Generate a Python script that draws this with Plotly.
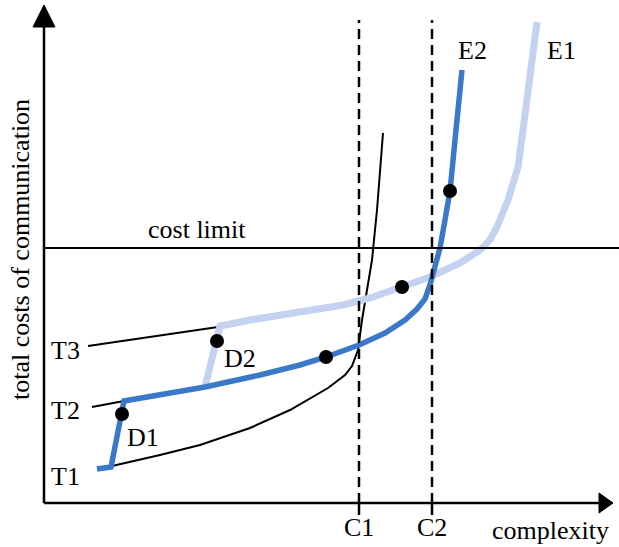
import plotly.graph_objects as go

# ---- data (y measured upward, x rightward, in diagram units) ----
t1_x = [112, 160, 200, 250, 290, 328, 345, 352, 358, 362, 367, 372, 377, 383]
t1_y = [81, 92, 102, 119, 137, 159, 172, 181, 197, 227, 257, 287, 337, 414]

t2_x = [92, 124]
t2_y = [140, 146]

t3_x = [88, 218]
t3_y = [201, 220]

e2_x = [97, 111, 124, 205, 260, 300, 326, 359, 385, 405, 417, 425, 430, 434, 440, 445, 450, 456, 462]
e2_y = [78, 80, 146, 160, 172, 182, 190, 202, 214, 227, 238, 248, 262, 277, 299, 327, 356, 417, 477]

e1_x = [205, 220, 250, 300, 343, 370, 402, 430, 460, 470, 480, 490, 497, 508, 518, 523, 527, 531, 534, 537]
e1_y = [160, 221, 227, 235, 242, 249, 260, 270, 284, 290, 297, 307, 320, 347, 380, 417, 447, 487, 512, 525]

dot_x = [122, 217, 326, 402, 450]
dot_y = [133, 206, 190, 260, 356]

cost_limit = 299
c_positions = [359, 432]
c_labels = ["C1", "C2"]
t_labels = ["T1", "T2", "T3"]
t_label_y = [71, 137, 197]
d_labels = ["D1", "D2"]

W, H = 619, 547
X0, Y0 = 44, 44          # axis origin
XEND, YEND = 613, 542    # arrow tips

BLACK = "black"
DARK = "#3a78c8"
LIGHT = "#c2d2ef"
FONT = "Liberation Serif, Times New Roman, serif"

fig = go.Figure()

# black curves
for xs, ys in [(t1_x, t1_y), (t2_x, t2_y), (t3_x, t3_y)]:
    fig.add_trace(go.Scatter(x=xs, y=ys, mode="lines",
                             line=dict(color=BLACK, width=2), hoverinfo="skip"))

# E1 (light) then E2 (dark)
fig.add_trace(go.Scatter(x=e1_x, y=e1_y, mode="lines",
                         line=dict(color=LIGHT, width=7), hoverinfo="skip"))
fig.add_trace(go.Scatter(x=e2_x, y=e2_y, mode="lines",
                         line=dict(color=DARK, width=5.5), hoverinfo="skip"))

# dots
fig.add_trace(go.Scatter(x=dot_x, y=dot_y, mode="markers",
                         marker=dict(color=BLACK, size=14), hoverinfo="skip"))

shapes = []
# axes
shapes.append(dict(type="line", x0=X0, y0=Y0, x1=X0, y1=YEND - 20,
                   line=dict(color=BLACK, width=2.5)))
shapes.append(dict(type="line", x0=X0, y0=Y0, x1=XEND - 12, y1=Y0,
                   line=dict(color=BLACK, width=2.5)))
shapes.append(dict(type="path",
                   path=f"M {X0-11} {YEND-22} L {X0+11} {YEND-22} L {X0} {YEND} Z",
                   fillcolor=BLACK, line=dict(color=BLACK, width=1)))
shapes.append(dict(type="path",
                   path=f"M {XEND-14} {Y0+10} L {XEND-14} {Y0-10} L {XEND} {Y0} Z",
                   fillcolor=BLACK, line=dict(color=BLACK, width=1)))
# cost limit
shapes.append(dict(type="line", x0=X0, y0=cost_limit, x1=W, y1=cost_limit,
                   line=dict(color=BLACK, width=2)))
# C1 / C2 dashed
for cx in c_positions:
    shapes.append(dict(type="line", x0=cx, y0=Y0, x1=cx, y1=527,
                       line=dict(color=BLACK, width=2.5, dash="10px,6px")))
    shapes.append(dict(type="line", x0=cx, y0=Y0 - 12, x1=cx, y1=Y0,
                       line=dict(color=BLACK, width=2.5)))

ann = []
def txt(x, y, s, **kw):
    d = dict(x=x, y=y, text=s, showarrow=False,
             font=dict(family=FONT, size=26, color=BLACK))
    d.update(kw)
    ann.append(d)

txt(197, 318, "cost limit")
for cx, lab in zip(c_positions, c_labels):
    txt(cx, 20, lab)
txt(550, 17, "complexity")
for yy, lab in zip(t_label_y, t_labels):
    txt(65, yy, lab)
txt(143, 110, d_labels[0])
txt(240, 189, d_labels[1])
txt(472, 497, "E2")
txt(561, 497, "E1")
txt(20, 297, "total costs of communication", textangle=-90)

fig.update_layout(
    width=W, height=H, margin=dict(l=0, r=0, t=0, b=0),
    paper_bgcolor="white", plot_bgcolor="white",
    showlegend=False, shapes=shapes, annotations=ann,
    xaxis=dict(range=[0, W], visible=False, fixedrange=True),
    yaxis=dict(range=[0, H], visible=False, fixedrange=True),
)

fig.write_html("out.html", config={"displayModeBar": False},
               post_script="document.body.style.margin='0';document.body.style.overflow='hidden';")
